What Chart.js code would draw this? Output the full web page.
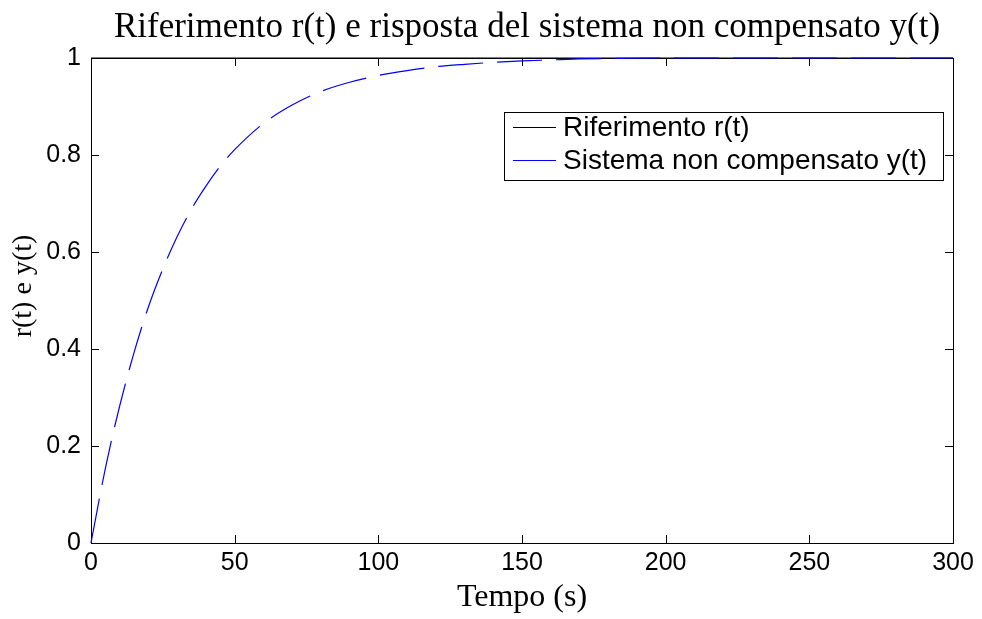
<!DOCTYPE html>
<html>
<head>
<meta charset="utf-8">
<script src="https://cdn.jsdelivr.net/npm/chart.js@4.4.0/dist/chart.umd.min.js"></script>
<style>
  html, body { margin: 0; padding: 0; background: #fff; }
  #wrap { width: 982px; height: 619px; }
</style>
</head>
<body>
<div id="wrap"><canvas id="risposta" width="982" height="619"></canvas></div>
<script>
// dati
var tempo = [0, 5, 10, 15, 20, 25, 30, 35, 40, 45, 50, 60, 70, 80, 90, 100, 110, 120, 130, 140, 150, 160, 170, 180, 200, 220, 250, 300];
var uscita = [0, 0.154, 0.283, 0.393, 0.487, 0.565, 0.632, 0.689, 0.736, 0.777, 0.811, 0.865, 0.903, 0.931, 0.950, 0.964, 0.974, 0.982, 0.987, 0.991, 0.994, 0.996, 0.998, 0.999, 1.0, 1.0, 1.0, 1.0];
var tempoRif = [0, 300];
var riferimento = [1, 1];
var xTicks = [0, 50, 100, 150, 200, 250, 300];
var yTicks = [0, 0.2, 0.4, 0.6, 0.8, 1];

var titolo = "Riferimento r(t) e risposta del sistema non compensato y(t)";
var titoloY = "r(t) e y(t)";

function punti(xs, ys) {
    var out = [];
    for (var i = 0; i < xs.length; i++) out.push({x: xs[i], y: ys[i]});
    return out;
}

/* box, tacche interne, titolo e legenda stile matlab */
var stileMatlab = {
    id: 'stileMatlab',
    beforeDatasetsDraw: function(chart) {
        var ctx = chart.ctx;
        var a = chart.chartArea;
        var sx = chart.scales.x, sy = chart.scales.y;
        ctx.save();
        ctx.strokeStyle = '#000';
        ctx.lineWidth = 1;
        ctx.beginPath();
        xTicks.forEach(function(v) {
            var px = Math.round(sx.getPixelForValue(v)) + 0.5;
            ctx.moveTo(px, a.bottom); ctx.lineTo(px, a.bottom - 8);
            ctx.moveTo(px, a.top); ctx.lineTo(px, a.top + 8);
        });
        yTicks.forEach(function(v) {
            var py = Math.round(sy.getPixelForValue(v)) + 0.5;
            ctx.moveTo(a.left, py); ctx.lineTo(a.left + 8, py);
            ctx.moveTo(a.right, py); ctx.lineTo(a.right - 8, py);
        });
        ctx.stroke();
        ctx.strokeRect(Math.round(a.left) + 0.5, Math.round(a.top) + 0.5, Math.round(a.right - a.left), Math.round(a.bottom - a.top));
        ctx.restore();
    },
    afterDatasetsDraw: function(chart) {
        var ctx = chart.ctx;
        var a = chart.chartArea;
        ctx.save();
        ctx.lineWidth = 1;

        // titolo
        ctx.fillStyle = '#000';
        ctx.font = '35px "Liberation Serif"';
        ctx.textAlign = 'center';
        ctx.textBaseline = 'middle';
        ctx.fillText(titolo, (a.left + a.right) / 2 + 5, 28);

        // titolo asse y
        ctx.save();
        ctx.translate(24, 286);
        ctx.rotate(-Math.PI / 2);
        ctx.font = '28px "Liberation Serif"';
        ctx.fillText(titoloY, 0, 0);
        ctx.restore();

        // legenda
        var bx = a.right - 10 - 439, by = a.top + 54, bw = 439, bh = 68;
        ctx.fillStyle = '#fff';
        ctx.fillRect(bx, by, bw, bh);
        ctx.strokeStyle = '#000';
        ctx.strokeRect(Math.round(bx) + 0.5, Math.round(by) + 0.5, bw, bh);
        ctx.font = '28px "Liberation Sans"';
        ctx.textAlign = 'left';
        chart.data.datasets.forEach(function(ds, i) {
            var ly = by + 15 + i * 33 + 0.5;
            ctx.strokeStyle = ds.borderColor;
            ctx.beginPath();
            ctx.moveTo(bx + 9, ly); ctx.lineTo(bx + 52, ly);
            ctx.stroke();
            ctx.fillStyle = '#000';
            ctx.fillText(ds.label, bx + 59, ly + 1);
        });
        ctx.restore();
    }
};

var ctxRisposta = document.getElementById("risposta");
var grafico = new Chart(ctxRisposta, {
    type: 'line',
    data: {
        datasets: [
            {
                label: "Riferimento r(t)",
                data: punti(tempoRif, riferimento),
                borderColor: "#000000",
                borderWidth: 1,
                pointRadius: 0,
                fill: false,
                tension: 0,
                clip: 2,
                order: 1
            },
            {
                label: "Sistema non compensato y(t)",
                data: punti(tempo, uscita),
                borderColor: "#0000ff",
                borderWidth: 1.2,
                borderDash: [45, 14],
                pointRadius: 0,
                fill: false,
                cubicInterpolationMode: 'monotone',
                clip: 2,
                order: 0
            }
        ]
    },
    options: {
        responsive: false,
        animation: false,
        layout: { padding: { left: 0, right: 29, top: 58, bottom: 0 } },
        plugins: {
            legend: { display: false },
            tooltip: { enabled: false }
        },
        scales: {
            x: {
                type: 'linear',
                min: 0,
                max: 300,
                afterFit: function(s) { s.height = 76; },
                afterBuildTicks: function(s) { s.ticks = xTicks.map(function(v) { return {value: v}; }); },
                grid: { display: false },
                border: { display: false },
                ticks: {
                    color: '#000',
                    padding: -3,
                    maxRotation: 0,
                    font: { family: '"Liberation Sans"', size: 25 }
                },
                title: {
                    display: true,
                    text: 'Tempo (s)',
                    color: '#000',
                    font: { family: '"Liberation Serif"', size: 32 },
                    padding: { top: 0, bottom: 2 }
                }
            },
            y: {
                type: 'linear',
                min: 0,
                max: 1,
                afterFit: function(s) { s.width = 91; },
                afterBuildTicks: function(s) { s.ticks = yTicks.map(function(v) { return {value: v}; }); },
                grid: { display: false },
                border: { display: false },
                ticks: {
                    color: '#000',
                    padding: 2,
                    font: { family: '"Liberation Sans"', size: 25 },
                    callback: function(v) { return String(Math.round(v * 10) / 10); }
                }
            }
        }
    },
    plugins: [stileMatlab]
});
</script>
</body>
</html>
